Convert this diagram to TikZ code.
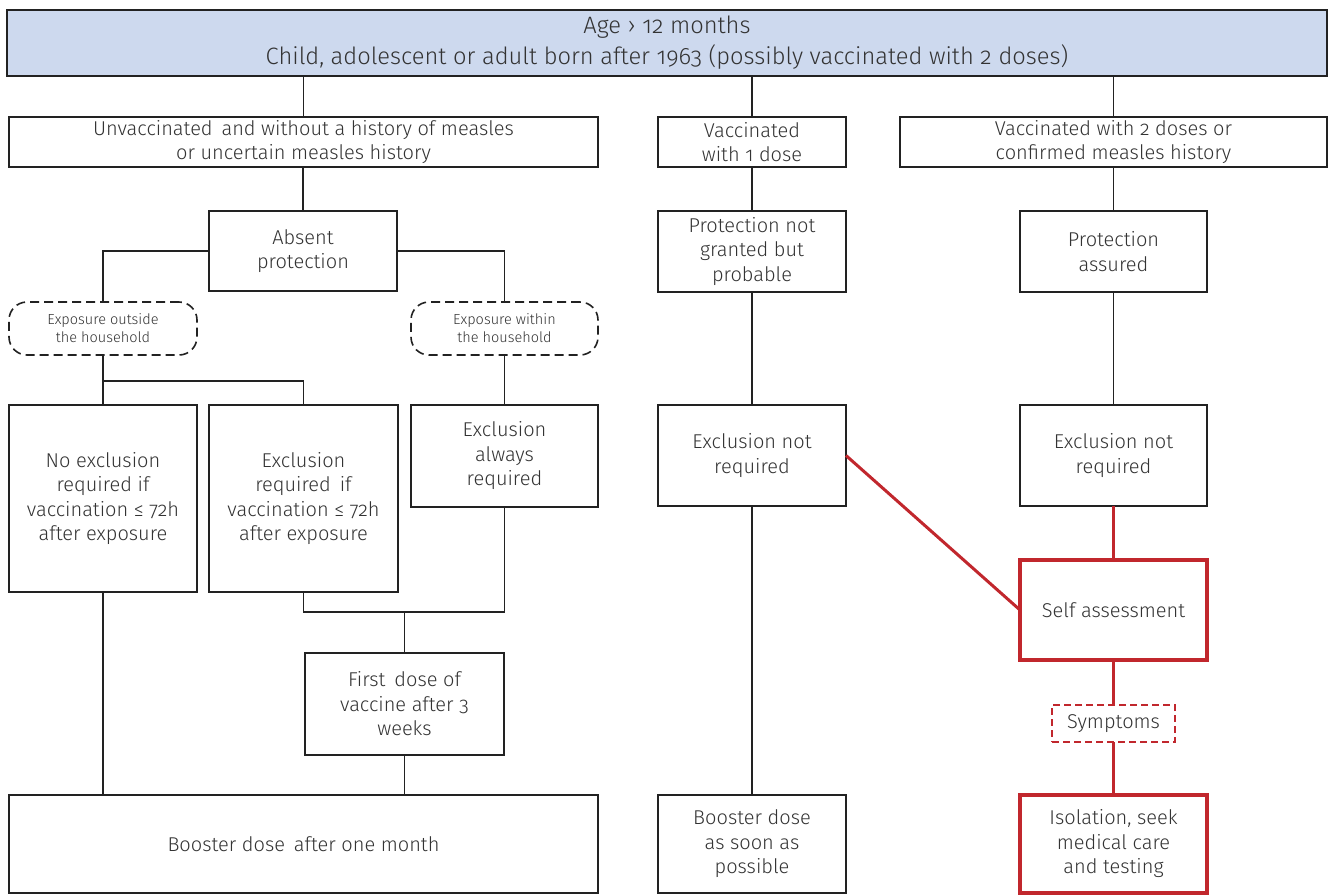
\documentclass[tikz,border=0pt]{standalone}
\usepackage{fontspec}
\setmainfont{Fira Sans Light}[Numbers=OldStyle]
\definecolor{topfill}{HTML}{CDD9EE}
\definecolor{redc}{HTML}{C1272D}
\definecolor{txt}{HTML}{333333}
\definecolor{ln}{HTML}{222222}
\newcommand\bxn[7]{\node[#6, minimum width={#4-#2}, minimum height={#5-#3}] (#1) at ({(#2+#4)/2},{(#3+#5)/2}) {#7};}
\tikzset{
  base/.style={inner sep=0pt, outer sep=0pt, align=center, text=txt, font=\fontsize{20}{24.5}\selectfont},
  bx/.style={base, draw=ln, line width=1.5pt, fill=white},
  topbox/.style={base, draw=ln, line width=1.5pt, fill=topfill, font=\fontsize{23.7}{31}\selectfont},
  expo/.style={base, draw=ln, line width=1.6pt, dash pattern=on 9pt off 5pt, rounded corners=18pt, fill=white, font=\fontsize{14.5}{18}\selectfont},
  redbox/.style={base, draw=redc, line width=3.5pt, fill=white},
  reddash/.style={base, draw=redc, line width=1.8pt, dash pattern=on 7pt off 4pt, fill=white},
  conn/.style={draw=ln, line width=1.4pt},
  redconn/.style={draw=redc, line width=3pt},
}
\begin{document}
\begin{tikzpicture}[x=1pt,y=-1pt]
\useasboundingbox (0,0) rectangle (1328,895);
\coordinate (j1) at (0,381);
\coordinate (j2) at (0,612);
% boxes
\bxn{top}{7}{10}{1327}{76}{topbox}{Age › 12 months\\Child, adolescent or adult born after 1963 (possibly vaccinated with 2 doses)}
\bxn{unv}{9}{117}{598}{167}{bx}{Unvaccinated\, and without a history of measles\\or uncertain measles history}
\bxn{vone}{658}{117}{846}{167}{bx}{Vaccinated\\with 1 dose}
\bxn{vtwo}{900}{117}{1327}{167}{bx}{Vaccinated with 2 doses or\\confirmed measles history}
\bxn{absent}{209}{211}{397}{291}{bx}{Absent\\protection}
\bxn{protnot}{658}{211}{846}{292}{bx}{Protection not\\granted but\\probable}
\bxn{protass}{1020}{211}{1207}{292}{bx}{Protection\\assured}
\bxn{expout}{9}{302}{197}{355}{expo}{Exposure outside\\the household}
\bxn{expin}{411}{302}{598}{355}{expo}{Exposure within\\the household}
\bxn{noexcl}{9}{405}{197}{592}{bx}{No exclusion\\required if\\vaccination ≤ 72h\\after exposure}
\bxn{exclreq}{209}{405}{398}{592}{bx}{Exclusion\\required\, if\\vaccination ≤ 72h\\after exposure}
\bxn{always}{411}{405}{598}{507}{bx}{Exclusion\\always\\required}
\bxn{exclnotone}{658}{405}{846}{506}{bx}{Exclusion not\\required}
\bxn{exclnottwo}{1020}{405}{1207}{506}{bx}{Exclusion not\\required}
\bxn{self}{1020}{560}{1207}{660}{redbox}{Self assessment}
\bxn{first}{305}{653}{504}{755}{bx}{First\, dose of\\vaccine after 3\\weeks}
\bxn{symp}{1052}{705}{1175}{742}{reddash}{Symptoms}
\bxn{boostone}{9}{795}{598}{893}{bx}{Booster dose\, after one month}
\bxn{boosttwo}{658}{795}{846}{893}{bx}{Booster dose\\as soon as\\possible}
\bxn{isol}{1020}{795}{1207}{893}{redbox}{Isolation, seek\\medical care\\and testing}
% black connectors
\draw[conn] (unv.north) -- (unv.north |- top.south);
\draw[conn] (vone.north) -- (vone.north |- top.south);
\draw[conn] (vtwo.north) -- (vtwo.north |- top.south);
\draw[conn] (absent.north) -- (absent.north |- unv.south);
\draw[conn] (absent.west) -| (expout.north);
\draw[conn] (absent.east) -| (expin.north);
\draw[conn] (expout.south) -- (noexcl.north);
\draw[conn] (expout.south |- j1) -| (exclreq.north);
\draw[conn] (expin.south) -- (always.north);
\draw[conn] (exclreq.south) -- (exclreq.south |- j2) -- (always.south |- j2) -- (always.south);
\draw[conn] (first.north) -- (first.north |- j2);
\draw[conn] (noexcl.south) -- (noexcl.south |- boostone.north);
\draw[conn] (first.south) -- (first.south |- boostone.north);
\draw[conn] (vone.south) -- (protnot.north);
\draw[conn] (protnot.south) -- (exclnotone.north);
\draw[conn] (exclnotone.south) -- (boosttwo.north);
\draw[conn] (vtwo.south -| protass.north) -- (protass.north);
\draw[conn] (protass.south) -- (exclnottwo.north);
% red connectors
\draw[redconn] (exclnottwo.south) -- (self.north);
\draw[redconn] (self.south) -- (symp.north);
\draw[redconn] (symp.south) -- (isol.north);
\draw[redconn] (exclnotone.east) -- (self.west);
\end{tikzpicture}
\end{document}
